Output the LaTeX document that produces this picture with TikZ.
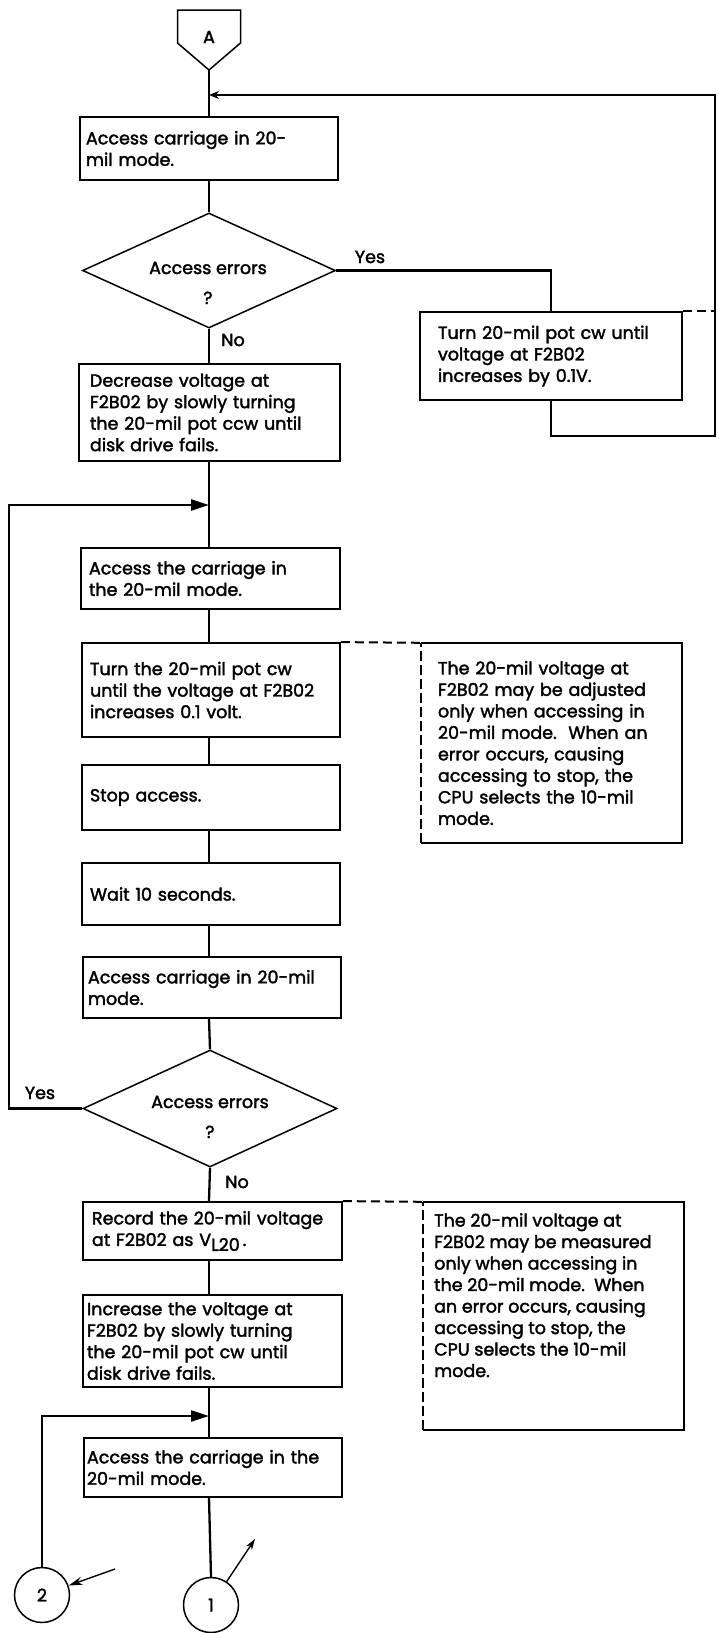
\documentclass[tikz,border=0pt]{standalone}
\usepackage{fontspec}
\setmainfont{Poppins}[FakeBold=2]
\usetikzlibrary{shapes.geometric,arrows.meta}

\begin{document}
\begin{tikzpicture}[x=1pt,y=-1pt,
  every node/.append style={font=\fontsize{17.5}{21.5}\selectfont},
  flow/.style={line width=2.3pt},
  faint/.style={line width=1.3pt},
  edge/.style={line width=1.8pt},
  dashlink/.style={line width=2pt, dash pattern=on 9pt off 5pt},
  dashedge/.style={line width=1.8pt, dash pattern=on 10pt off 4pt},
  flowbox/.style n args={3}{draw, line width=1.8pt, rectangle,
    minimum height=#2, text width=#1, inner xsep=0pt, inner ysep=0pt,
    align=left,
    execute at begin node={\leftskip=#3\relax\rightskip=0pt plus 1fil minus 120pt\relax}},
  notebox/.style n args={3}{rectangle, minimum height=#2, text width=#1,
    inner xsep=0pt, inner ysep=0pt, align=left,
    execute at begin node={\leftskip=#3\relax\rightskip=0pt plus 1fil minus 120pt\relax}},
  decision/.style={diamond, draw, line width=1.5pt, inner sep=0pt},
  connector/.style={circle, draw, line width=1.5pt, minimum size=55pt, inner sep=0pt},
  bigtip/.style={-{Triangle[length=18pt,width=11pt]}},
]
\fill[white] (0,0) rectangle (719,1633);
\useasboundingbox (0,0) rectangle (719,1633);

% off-page connector A
\draw[line width=1.5pt] (177.5,10) -- (240.5,10) -- (240.5,43) -- (209,70) -- (177.5,43) -- cycle;
\node (pA) at (209,37) {A};
\coordinate (Atip) at (209,70);

% helper coordinates for the flow spine and loops
\coordinate (spine) at (209,0);
\coordinate (j1) at (209,95);
\coordinate (loopNE) at (715,95);
\coordinate (loopSE) at (715,436);
\coordinate (j2) at (209,505);
\coordinate (loopW) at (9,505);
\coordinate (j3) at (209,1416);

% process boxes
\node[flowbox={258pt}{63pt}{6pt}] (box1) at (209,148.5)
  {Access carriage in 20-\\mil mode.};
\node[flowbox={261pt}{97pt}{11pt}] (dec) at (209.5,412.5)
  {Decrease voltage at\\F2B02 by slowly turning\\the 20-mil pot ccw until\\disk drive fails.};
\node[flowbox={262pt}{88pt}{18pt}] (turn1) at (551,356)
  {Turn 20-mil pot cw until\\voltage at F2B02\\increases by 0.1V.};
\node[flowbox={259pt}{61pt}{8pt}] (acc2) at (210.5,578.5)
  {Access the carriage in\\the 20-mil mode.};
\node[flowbox={258pt}{94pt}{8pt}] (turn2) at (211,690)
  {Turn the 20-mil pot cw\\until the voltage at F2B02\\increases 0.1 volt.};
\node[flowbox={258pt}{65pt}{8pt}] (stop) at (211,797.5) {Stop access.};
\node[flowbox={258pt}{62pt}{8pt}] (wait) at (211,894) {Wait 10 seconds.};
\node[flowbox={258pt}{61pt}{5pt}] (acc3) at (212,987.5)
  {Access carriage in 20-mil\\mode.};
\node[flowbox={259pt}{58pt}{9pt}] (rec) at (212.5,1231)
  {Record the 20-mil voltage\\at F2B02 as V\raisebox{-5pt}{L20}\,.};
\node[flowbox={259pt}{92pt}{4pt}] (inc) at (212.5,1341)
  {Increase the voltage at\\F2B02 by slowly turning\\the 20-mil pot cw until\\disk drive fails.};
\node[flowbox={258pt}{59pt}{3pt}] (acc4) at (213,1467.5)
  {Access the carriage in the\\20-mil mode.};

% notes
\node[notebox={261pt}{200pt}{17pt}] (note1) at (551.5,743)
  {The 20-mil voltage at\\F2B02 may be adjusted\\only when accessing in\\20-mil mode.\ \ When an\\error occurs, causing\\accessing to stop, the\\CPU selects the 10-mil\\mode.};
\node[notebox={261pt}{228pt}{0pt}] (note2) at (553.5,1316) {};
\node[anchor=north west, inner sep=0pt, align=left] (note2t) at (434,1213)
  {The 20-mil voltage at\\F2B02 may be measured\\only when accessing in\\the 20-mil mode.\ \ When\\an error occurs, causing\\accessing to stop, the\\CPU selects the 10-mil\\mode.};
\foreach \n in {note1,note2}{
  \draw[edge] (\n.north west) -- (\n.north east) -- (\n.south east) -- (\n.south west);
  \draw[dashedge] (\n.south west) -- (\n.north west);
}

% decisions
\node[decision, minimum width=253pt, minimum height=115pt] (d1) at (209,270.5) {};
\node[align=center, inner sep=0pt] (d1t) at (208,283) {Access errors\\[8.5pt]?};
\node[decision, minimum width=254pt, minimum height=117pt] (d2) at (210,1108.5) {};
\node[align=center, inner sep=0pt] (d2t) at (210,1117) {Access errors\\[8.5pt]?};

% branch labels
\node (y1) at (370,257) {Yes};
\node (n1) at (233,340) {No};
\node (y2) at (40,1093) {Yes};
\node (n2) at (237,1182) {No};

% page connectors
\node[connector] (c1) at (211,1605) {1};
\node[connector] (c2) at (42,1595) {2};
\coordinate (c1tail) at (255,1539);
\coordinate (c2tail) at (115,1569);

% flow lines
\draw[faint] (Atip) -- (box1.north -| spine);
\draw[flow, -{Stealth[length=10pt,width=8pt]}] (turn1.south) |- (loopSE) -- (loopNE) -- (j1);
\draw[faint] (box1.south -| spine) -- (d1.north);
\draw[flow] (d1.east) -| (turn1.north);
\draw[dashlink] (turn1.north east) -- (turn1.north east -| loopSE);
\draw[flow] (d1.south) -- (dec.north -| spine);
\draw[faint] (dec.south -| spine) -- (acc2.north -| spine);
\draw[flow, bigtip] (d2.west) -- (d2.west -| loopW) -- (loopW) -- (j2);
\draw[flow] (acc2.south -| spine) -- (turn2.north -| spine);
\draw[dashlink] (turn2.north east) -- (note1.north west);
\draw[flow] (turn2.south -| spine) -- (stop.north -| spine);
\draw[flow] (stop.south -| spine) -- (wait.north -| spine);
\draw[flow] (wait.south -| spine) -- (acc3.north -| spine);
\draw[flow] (acc3.south -| spine) -- (d2.north);
\draw[flow] (d2.south) -- (rec.north -| spine);
\draw[dashlink] (rec.north east) -- (note2.north west);
\draw[flow] (rec.south -| spine) -- (inc.north -| spine);
\draw[flow] (inc.south -| spine) -- (acc4.north -| spine);
\draw[flow, bigtip] (c2.north) |- (j3);
\draw[flow] (acc4.south -| spine) -- (c1.north);
\draw[line width=1.4pt, -{Stealth[length=11pt,width=7pt]}] (c1) -- (c1tail);
\draw[line width=1.4pt, -{Stealth[length=14pt,width=8pt]}] (c2tail) -- (c2);
\end{tikzpicture}
\end{document}
